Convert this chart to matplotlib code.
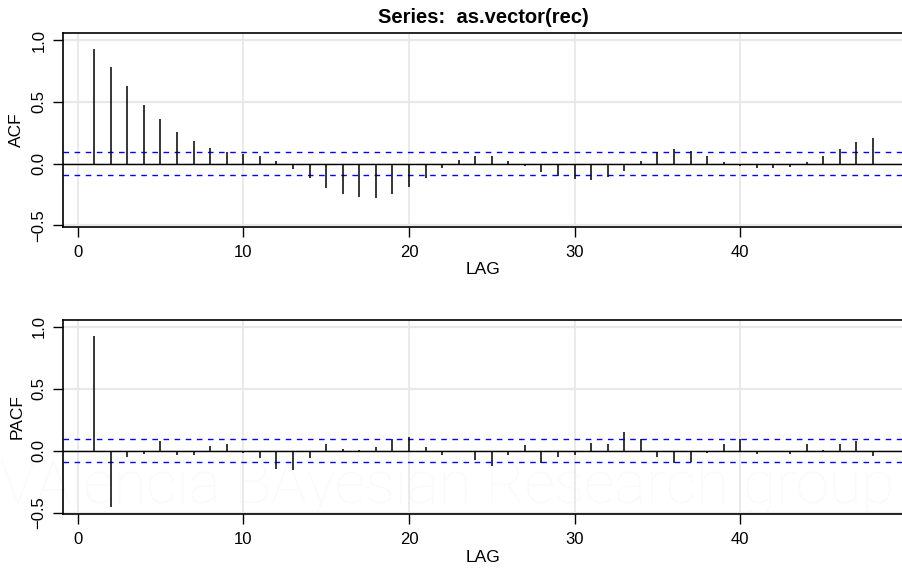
import numpy as np
import matplotlib
matplotlib.use("Agg")
import matplotlib.pyplot as plt

plt.rcParams['font.family'] = ['Liberation Sans', 'DejaVu Sans']

# lags and sample correlations
lags = np.arange(1, 49)
acf_vals = [0.925, 0.785, 0.628, 0.477, 0.359, 0.259, 0.183, 0.129, 0.094, 0.076,
            0.059, 0.024, -0.040, -0.120, -0.194, -0.243, -0.270, -0.275, -0.243, -0.186,
            -0.113, -0.038, 0.032, 0.065, 0.062, 0.022, -0.022, -0.065, -0.097, -0.124,
            -0.130, -0.111, -0.059, 0.019, 0.092, 0.116, 0.102, 0.059, 0.011, -0.019,
            -0.038, -0.038, -0.024, 0.011, 0.059, 0.119, 0.175, 0.208]
pacf_vals = [0.925, -0.451, -0.049, -0.022, 0.076, -0.033, -0.035, 0.038, 0.052, -0.019,
             -0.057, -0.147, -0.155, -0.060, 0.054, 0.011, 0.005, 0.027, 0.092, 0.114,
             0.030, -0.033, -0.008, -0.073, -0.125, -0.033, 0.049, -0.095, -0.046, -0.033,
             0.064, 0.052, 0.149, 0.095, -0.046, -0.098, -0.090, -0.019, 0.054, 0.095,
             -0.024, -0.011, -0.022, 0.054, 0.005, 0.054, 0.081, -0.038]
n_obs = 453
bound = 2 / np.sqrt(n_obs)
title = "Series:  as.vector(rec)"

W, H = 903, 568
fig = plt.figure(figsize=(W / 100, H / 100), dpi=100)

# faint watermark in the background
fig.text(0.0, (H - 503) / H, "VAlencia BAyesian Research group", fontsize=43,
         color='#fcf9f9', fontweight='light', family=['Roboto', 'Liberation Sans'],
         ha='left', va='baseline', zorder=-10)

ymin = min(min(acf_vals), min(pacf_vals))
pad = (1 - ymin) * 0.04

def panel(rect, vals, ylabel):
    ax = fig.add_axes(rect, zorder=1)
    ax.patch.set_alpha(0)
    ax.set_xlim(1 - 47 * 0.04, 48 + 47 * 0.04)
    ax.set_ylim(ymin - pad, 1 + pad)
    for x in [0, 10, 20, 30, 40]:
        ax.axvline(x, color='#e8e8e8', lw=1.3, zorder=0)
    for y in [-0.5, 0, 0.5, 1.0]:
        ax.axhline(y, color='#e8e8e8', lw=1.6, zorder=0)
    ax.vlines(lags, 0, vals, color='black', lw=1.1, zorder=3)
    ax.axhline(0, color='black', lw=1.0, zorder=2)
    ax.axhline(bound, color='blue', lw=1.0, ls=(0, (4, 4)), zorder=2)
    ax.axhline(-bound, color='blue', lw=1.0, ls=(0, (4, 4)), zorder=2)
    ax.set_xticks([0, 10, 20, 30, 40])
    ax.set_yticks([-0.5, 0.0, 0.5, 1.0])
    ax.set_yticklabels(['\u22120.5', '0.0', '0.5', '1.0'], rotation=90, va='center')
    ax.tick_params(direction='out', length=7, width=1, labelsize=12, pad=5)
    ax.tick_params(axis='x', pad=6)
    for s in ax.spines.values():
        s.set_linewidth(1.2)
    ax.set_xlabel("LAG", fontsize=12.5, labelpad=2)
    ax.set_ylabel(ylabel, fontsize=12.5, labelpad=5)
    return ax

ax1 = panel([63 / W, (H - 226.5) / H, 841 / W, 193.5 / H], acf_vals, "ACF")
ax1.set_title(title, fontsize=14.5, fontweight='bold', pad=7)
ax2 = panel([63 / W, (H - 514) / H, 841 / W, 194.5 / H], pacf_vals, "PACF")

fig.savefig("out.png", dpi=100)
